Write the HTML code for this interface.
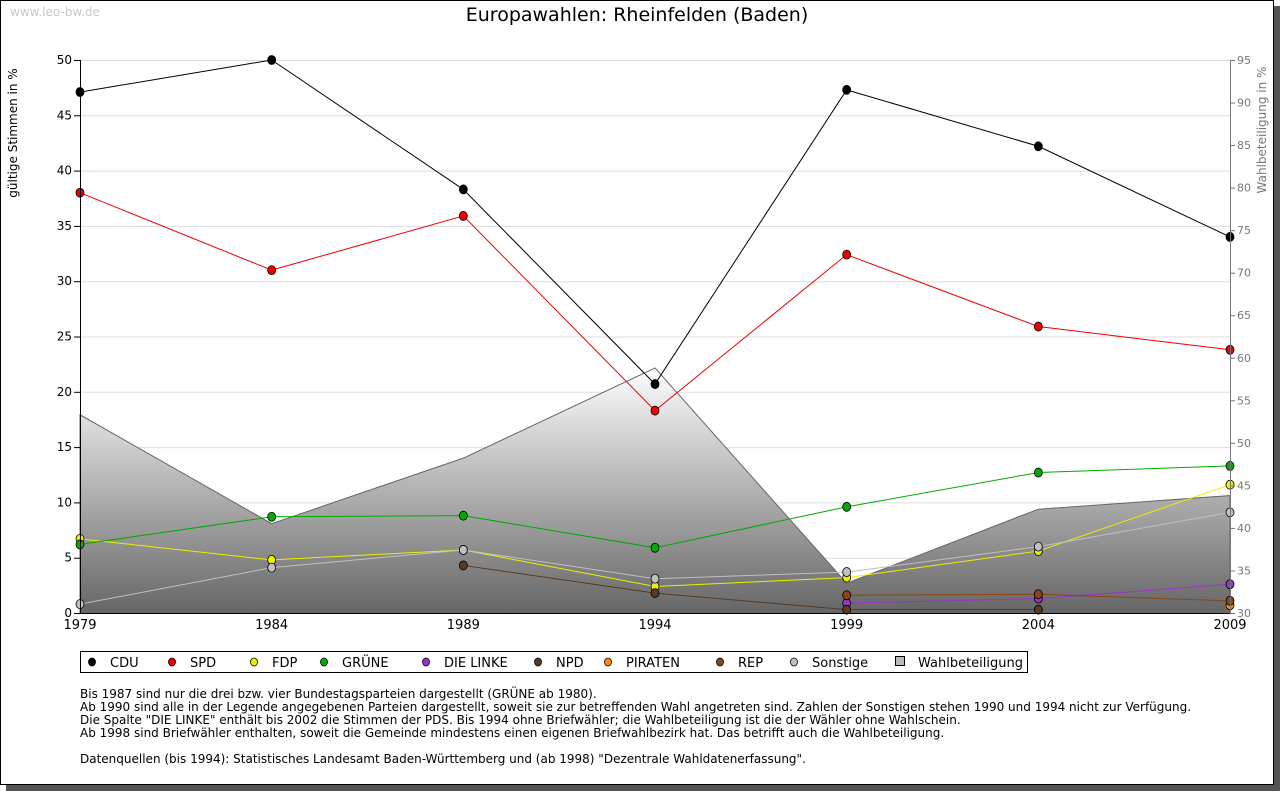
<!DOCTYPE html>
<html><head><meta charset="utf-8"><style>
body{margin:0;width:1280px;height:791px;background:#fff;overflow:hidden;font-family:"Liberation Sans","DejaVu Sans",sans-serif}
</style></head><body>
<svg width="1280" height="791" id="chart" font-family="DejaVu Sans, Liberation Sans, sans-serif">
<defs>
<linearGradient id="wg" gradientUnits="userSpaceOnUse" x1="0" y1="368" x2="0" y2="613">
<stop offset="0" stop-color="#fdfdfd"/><stop offset="1" stop-color="#666"/></linearGradient>
</defs>
<rect x="6" y="6" width="1274" height="785" fill="#555"/>
<rect x="0.5" y="0.5" width="1273" height="784" fill="#fff" stroke="#000"/>
<text x="10" y="16" font-size="12" fill="#c8c8c8">www.leo-bw.de</text>
<text x="637" y="21" font-size="19" text-anchor="middle" fill="#000">Europawahlen: Rheinfelden (Baden)</text>
<text transform="translate(17,133) rotate(-90)" font-size="12" text-anchor="middle">gültige Stimmen in %</text>
<text transform="translate(1266,130) rotate(-90)" font-size="12" text-anchor="middle" fill="#777">Wahlbeteiligung in %</text>
<g id="grid"></g><g id="area"></g><g id="lines"></g><g id="axes"></g>
<rect x="80.5" y="651.5" width="947" height="21" fill="#fff" stroke="#000"/>
<g id="legend"></g>
<g font-size="12" fill="#000">
<text x="80" y="698">Bis 1987 sind nur die drei bzw. vier Bundestagsparteien dargestellt (GRÜNE ab 1980).</text>
<text x="80" y="711">Ab 1990 sind alle in der Legende angegebenen Parteien dargestellt, soweit sie zur betreffenden Wahl angetreten sind. Zahlen der Sonstigen stehen 1990 und 1994 nicht zur Verfügung.</text>
<text x="80" y="724">Die Spalte "DIE LINKE" enthält bis 2002 die Stimmen der PDS. Bis 1994 ohne Briefwähler; die Wahlbeteiligung ist die der Wähler ohne Wahlschein.</text>
<text x="80" y="737">Ab 1998 sind Briefwähler enthalten, soweit die Gemeinde mindestens einen eigenen Briefwahlbezirk hat. Das betrifft auch die Wahlbeteiligung.</text>
<text x="80" y="763">Datenquellen (bis 1994): Statistisches Landesamt Baden-Württemberg und (ab 1998) "Dezentrale Wahldatenerfassung".</text>
</g>
</svg>
<script>
const years=[1979,1984,1989,1994,1999,2004,2009];
const cdu=[47.1,50.0,38.3,20.7,47.3,42.2,34.0];
const spd=[38.0,31.0,35.9,18.3,32.4,25.9,23.8];
const fdp=[6.7,4.8,5.7,2.4,3.2,5.6,11.6];
const gruene=[6.2,8.7,8.8,5.9,9.6,12.7,13.3];
const linke=[null,null,null,null,0.9,1.3,2.6];
const npd=[null,null,4.3,1.8,0.3,0.3,null];
const piraten=[null,null,null,null,null,null,0.7];
const rep=[null,null,null,null,1.6,1.7,1.1];
const sonstige=[0.8,4.1,5.7,3.1,3.7,6.0,9.1];
const turnout=[53.3,40.5,48.2,58.8,33.5,42.2,43.8];
const leftTicks=[0,5,10,15,20,25,30,35,40,45,50];
const rightTicks=[30,35,40,45,50,55,60,65,70,75,80,85,90,95];
const NS='http://www.w3.org/2000/svg';
const X0=80,X1=1230,Y0=613,Y1=60;
const x=yr=>X0+(yr-1979)/(2009-1979)*(X1-X0);
const yl=v=>Y0-v/50*(Y0-Y1);
const yr=v=>Y0-(v-30)/65*(Y0-Y1);
function mk(tag,attrs,parent){const e=document.createElementNS(NS,tag);for(const k in attrs)e.setAttribute(k,attrs[k]);document.getElementById(parent).appendChild(e);return e;}
leftTicks.forEach(t=>{if(t>0){const g=mk('line',{x1:X0,x2:X1,y1:yl(t)+.5,y2:yl(t)+.5,stroke:'#ddd'},'grid');}
 const tk=mk('line',{x1:X0-6,x2:X0,y1:yl(t)+.5,y2:yl(t)+.5,stroke:'#000'},'axes');
 const tx=mk('text',{x:X0-8,y:yl(t)+4,'font-size':12,'text-anchor':'end'},'axes');tx.textContent=t;});
rightTicks.forEach(t=>{const tk=mk('line',{x1:X1,x2:X1+5,y1:yr(t)+.5,y2:yr(t)+.5,stroke:'#777'},'axes');
 const tx=mk('text',{x:X1+7,y:yr(t)+4,'font-size':11,fill:'#777'},'axes');tx.textContent=t;});
years.forEach(yy=>{const tx=mk('text',{x:x(yy),y:Y0+16,'font-size':13,'text-anchor':'middle'},'axes');tx.textContent=yy;});
let la=mk('line',{x1:X0+.5,x2:X0+.5,y1:Y1,y2:Y0,stroke:'#000'},'axes');
let ra=mk('line',{x1:X1+.5,x2:X1+.5,y1:Y1,y2:Y0,stroke:'#777'},'axes');
let ba=mk('line',{x1:X0,x2:X1,y1:Y0+.5,y2:Y0+.5,stroke:'#000'},'axes');
let pts=years.map((yy,i)=>x(yy)+','+yr(turnout[i])).join(' ');
const ar=mk('polygon',{points:X0+','+Y0+' '+pts+' '+X1+','+Y0,fill:'url(#wg)',stroke:'#666'},'area');

const series=[['cdu',cdu,'#000'],['spd',spd,'#e00'],['fdp',fdp,'#ee0'],['gruene',gruene,'#0a0'],['linke',linke,'#9933cc'],['npd',npd,'#5a3a22'],['piraten',piraten,'#f80'],['rep',rep,'#8b4513'],['sonstige',sonstige,'#c0c0c0']];
series.forEach(([n,d,c])=>{let p=[];d.forEach((v,i)=>{if(v!==null)p.push(x(years[i])+','+yl(v));});
 if(p.length>1){const l=mk('polyline',{points:p.join(' '),fill:'none',stroke:c,'stroke-width':1},'lines');}
 d.forEach((v,i)=>{if(v===null)return;const cx=x(years[i]),cy=yl(v);const m=mk('ellipse',{cx:cx,cy:cy,rx:4,ry:4.5,fill:c,stroke:'#000','stroke-width':.8},'lines');});});
const leg=[['CDU','#000',92],['SPD','#e00',172],['FDP','#ee0',254],['GRÜNE','#0a0',324],['DIE LINKE','#9933cc',426],['NPD','#5a3a22',538],['PIRATEN','#f80',608],['REP','#8b4513',720],['Sonstige','#c0c0c0',794]];
leg.forEach(([t,c,lx])=>{const cy=662;const m=mk('ellipse',{cx:lx,cy:cy,rx:3.5,ry:4,fill:c,stroke:'#000','stroke-width':.8},'legend');
 const tx=mk('text',{x:lx+18,y:cy+5,'font-size':13},'legend');tx.textContent=t;});
const sq=mk('rect',{x:895.5,y:656.5,width:9,height:9,fill:'#bbb',stroke:'#000'},'legend');
const tw=mk('text',{x:918,y:667,'font-size':13},'legend');tw.textContent='Wahlbeteiligung';
</script>
</body></html>
